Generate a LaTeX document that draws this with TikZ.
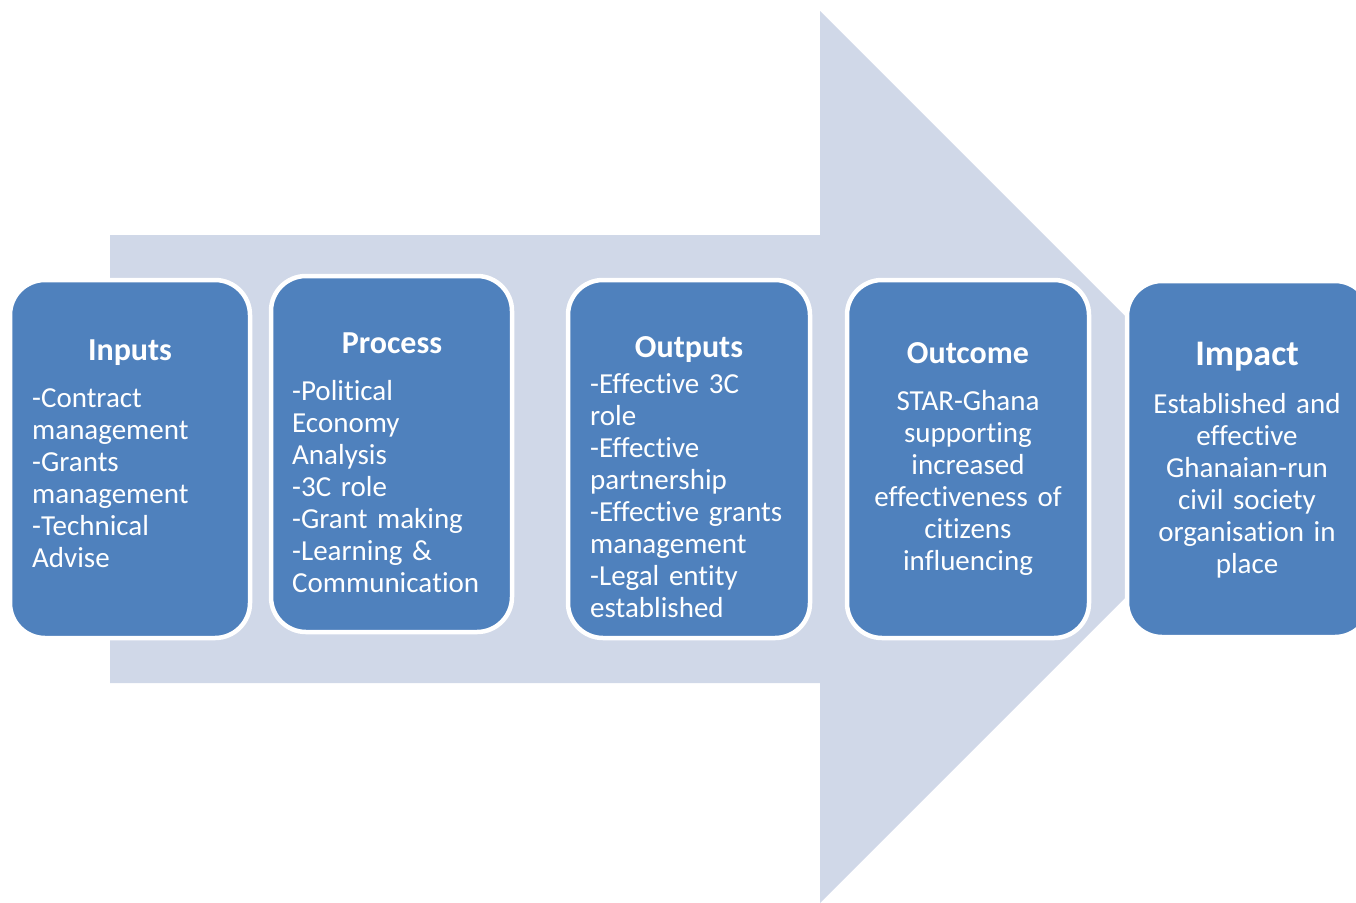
\documentclass[tikz,border=0pt]{standalone}
\usepackage{fontspec}
\setmainfont{Carlito}[Ligatures={NoCommon,NoContextual,NoRequired,NoDiscretionary}]
\definecolor{boxblue}{HTML}{4F81BD}
\definecolor{arrowgrey}{HTML}{D0D8E8}
\begin{document}
\begin{tikzpicture}[x=1pt,y=-1pt,
  stagebox/.style={rectangle, rounded corners=35pt, fill=boxblue, draw=white,
    line width=4.5pt, inner sep=0pt, outer sep=0pt},
  stagetitle/.style={text=white, font=\fontsize{32}{38}\selectfont\bfseries,
    inner sep=0pt, anchor=base},
  listtext/.style={text=white, font=\fontsize{29}{32}\selectfont, inner sep=0pt,
    align=left, anchor=base west, text width=230pt},
  centretext/.style={text=white, font=\fontsize{29}{32}\selectfont, inner sep=0pt,
    align=center, anchor=base, text width=230pt}]
\useasboundingbox (0,0) rectangle (1356,902);
\clip (0,0) rectangle (1356,902);

% background block arrow
\fill[arrowgrey] (110,235) -- (820,235) -- (820,11) -- (1266,457)
  -- (820,903) -- (820,683) -- (110,683) -- cycle;

% stage boxes
\node[stagebox, minimum width=240pt, minimum height=358pt] (inputs)  at (130,459) {};
\node[stagebox, minimum width=241pt, minimum height=356pt] (process) at (391.5,454) {};
\node[stagebox, minimum width=242pt, minimum height=358pt] (outputs) at (689,459) {};
\node[stagebox, minimum width=242pt, minimum height=358pt] (outcome) at (968,459) {};
\node[stagebox, minimum width=243pt, minimum height=356pt] (impact)  at (1248.5,459) {};

% titles
\node[stagetitle] (inputsT)  at (130,360) {Inputs};
\node[stagetitle] (processT) at (392,353) {Process};
\node[stagetitle] (outputsT) at (689,357) {Outputs};
\node[stagetitle] (outcomeT) at (968,363) {Outcome};
\node[stagetitle, font=\fontsize{36}{42}\selectfont\bfseries] (impactT) at (1247,365) {Impact};

% contents
\node[listtext] (inputsB) at (32,407) {-Contract\\management\\-Grants\\management\\-Technical\\Advise};
\node[listtext] (processB) at (292,400) {-Political\\Economy\\Analysis\\-3C role\\-Grant making\\-Learning \&\\Communica\kern0pt tion};
\node[listtext] (outputsB) at (590,393) {-Effective 3C\\role\\-Effective\\partnership\\-Effective grants\\management\\-Legal entity\\established};
\node[centretext] (outcomeB) at (968,410) {STAR-Ghana\\supporting\\increased\\effectiveness of\\ci\kern0pt tizens\\influencing};
\node[centretext] (impactB) at (1247,413) {Established and\\effective\\Ghanaian-run\\civil society\\organisation in\\place};
\end{tikzpicture}
\end{document}
